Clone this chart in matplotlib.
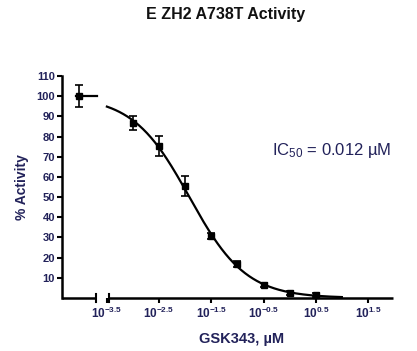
import matplotlib.pyplot as plt
import numpy as np

# Data (x in log10 uM)
control_x = -4.04
control_y = 100.0
control_err = 5.5

log_conc = [-3.0, -2.5, -2.0, -1.5, -1.0, -0.5, 0.0, 0.5]
activity = [86.7, 75.5, 55.3, 30.7, 16.7, 6.4, 2.5, 1.5]
activity_err = [3.5, 5.0, 5.0, 1.5, 1.5, 1.0, 1.0, 1.0]

# fitted curve parameters
fit_top = 100.0
fit_bottom = 0.0
fit_logic50 = -1.92
fit_hill = 0.8

xtick_pos = [-3.5, -2.5, -1.5, -0.5, 0.5, 1.5]
xtick_exp = ['-3.5', '-2.5', '-1.5', '-0.5', '0.5', '1.5']
ytick_pos = [10, 20, 30, 40, 50, 60, 70, 80, 90, 100, 110]

plt.rcParams['font.family'] = ['Liberation Sans', 'DejaVu Sans']
plt.rcParams['mathtext.fontset'] = 'custom'
plt.rcParams['mathtext.rm'] = 'Liberation Sans'
plt.rcParams['mathtext.bf'] = 'Liberation Sans:bold'
plt.rcParams['mathtext.default'] = 'regular'

txtcol = '#22225a'

fig = plt.figure(figsize=(4.17, 3.51), dpi=100)
ax = fig.add_axes([62/417, 1-298/351, (393-62)/417, (298-76)/351])

xmin, xmax = -4.36, 1.98
ax.set_xlim(xmin, xmax)
ax.set_ylim(0, 110)

# fitted curve
xc = np.linspace(-3.5, 1.0, 300)
yc = fit_bottom + (fit_top - fit_bottom) / (1 + 10**((xc - fit_logic50) * fit_hill))
ax.plot(xc, yc, color='black', lw=1.6, zorder=3)
ax.plot([control_x - 0.05, -3.69], [fit_top, fit_top], color='black', lw=1.6, zorder=3)

# points
ax.errorbar([control_x], [control_y], yerr=[control_err], fmt='s', color='black',
            ms=5, capsize=3, elinewidth=1.2, capthick=1.2, zorder=4, clip_on=False)
ax.errorbar(log_conc, activity, yerr=activity_err, fmt='s', color='black',
            ms=5, capsize=3, elinewidth=1.2, capthick=1.2, zorder=4, clip_on=False)

# spines / broken x axis
for s in ['top', 'right', 'bottom']:
    ax.spines[s].set_visible(False)
ax.spines['left'].set_linewidth(1.8)
ax.plot([xmin, -3.71], [0, 0], color='black', lw=1.8, clip_on=False, zorder=5,
        solid_capstyle='butt')
ax.plot([-3.46, xmax], [0, 0], color='black', lw=1.8, clip_on=False, zorder=5,
        solid_capstyle='butt')
for bx in [-3.71, -3.46]:
    ax.plot([bx, bx], [-1.8, 1.8], color='black', lw=1.5, clip_on=False, zorder=5)

ax.set_yticks(ytick_pos)
ax.set_yticklabels([str(v) for v in ytick_pos], fontsize=8, fontweight='bold', color=txtcol)
ax.set_xticks(xtick_pos)
ax.set_xticklabels(['10$^{%s}$' % e for e in xtick_exp], fontsize=8.5, fontweight='bold',
                   color=txtcol)
ax.tick_params(axis='y', direction='out', length=3.5, width=1.5, pad=1.5)
ax.tick_params(axis='x', direction='out', length=3.5, width=1.5, pad=2)

fig.text(22/417, 1-187/351, '% Activity', ha='center', va='center', rotation=90,
         fontsize=10, fontweight='bold', color=txtcol)
fig.text(242/417, 1-339/351, 'GSK343, µM', ha='center', va='center', fontsize=10.5,
         fontweight='bold', color=txtcol)

fig.text(226/417, 1-15/351, 'E ZH2 A738T Activity', ha='center', va='center',
         fontsize=11.5, fontweight='bold', color='#111111')
fig.text(272/417, 1-150/351, 'IC$_{50}$ = 0.012 µM', ha='left', va='center',
         fontsize=12, color=txtcol)

fig.savefig('out.png', dpi=100)
